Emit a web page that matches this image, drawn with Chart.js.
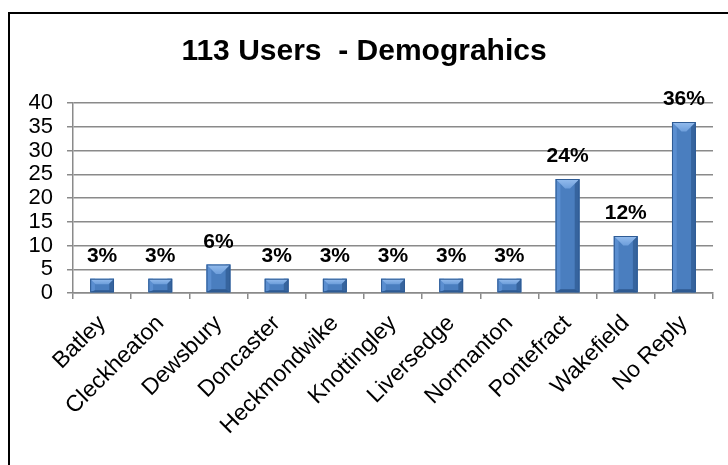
<!DOCTYPE html>
<html>
<head>
<meta charset="utf-8">
<script src="https://cdn.jsdelivr.net/npm/chart.js@4.4.1/dist/chart.umd.min.js"></script>
<style>
  html, body { margin: 0; padding: 0; background: #fff; }
  #wrap { position: relative; width: 728px; height: 465px; overflow: hidden; }
  #frame { position: absolute; left: 8px; top: 12px; width: 800px; height: 500px;
           border-left: 2px solid #000; border-top: 2px solid #000; }
  #demographics { position: absolute; left: 0; top: 0; }
</style>
</head>
<body>
<div id="wrap">
  <div id="frame"></div>
  <canvas id="demographics" width="728" height="465"></canvas>
</div>
<script>
const chartTitle = '113 Users  - Demograhics';
const towns = ['Batley', 'Cleckheaton', 'Dewsbury', 'Doncaster', 'Heckmondwike',
  'Knottingley', 'Liversedge', 'Normanton', 'Pontefract', 'Wakefield', 'No Reply'];
const userPercent = [3, 3, 6, 3, 3, 3, 3, 3, 24, 12, 36];
const yMin = 0;
const yMax = 40;
const yStep = 5;

const gridGrey = '#8a8a8a';
const fontFamily = 'Arial, "Liberation Sans", sans-serif';

// excel style bevel over each bar
const bevelBars = {
  id: 'bevelBars',
  afterDatasetsDraw(chart) {
    const ctx = chart.ctx;
    ctx.save();
    chart.getDatasetMeta(0).data.forEach(bar => {
      const {x, y, base, width} = bar.getProps(['x', 'y', 'base', 'width'], true);
      const l = x - width / 2, r = x + width / 2, t = y, b = base;
      const h = b - t;
      const d = Math.min(9.5, h * 0.4);
      const side = Math.min(5, width * 0.2);
      const bd = Math.min(3, h * 0.15);

      const poly = (pts, fill) => {
        ctx.beginPath();
        ctx.moveTo(pts[0][0], pts[0][1]);
        pts.slice(1).forEach(p => ctx.lineTo(p[0], p[1]));
        ctx.closePath();
        ctx.fillStyle = fill;
        ctx.fill();
      };

      poly([[l, t], [l + side, t], [l + side, b], [l, b]], '#5a8ed0');
      poly([[r - side, t], [r, t], [r, b], [r - side, b]], '#36649e');
      poly([[l, b], [r, b], [r - side, b - bd], [l + side, b - bd]], '#2f5a90');
      const g = ctx.createLinearGradient(0, t, 0, t + d);
      g.addColorStop(0, '#95bdee');
      g.addColorStop(1, '#6d9edb');
      poly([[l, t], [r, t], [r - d, t + d], [l + d, t + d]], g);

      ctx.strokeStyle = '#2e5b94';
      ctx.lineWidth = 1;
      ctx.strokeRect(l + 0.5, t + 0.5, width - 1, h - 1);
    });
    ctx.restore();
  }
};

// percentage labels above the bars
const valueLabels = {
  id: 'valueLabels',
  afterDatasetsDraw(chart) {
    const ctx = chart.ctx;
    const ds = chart.data.datasets[0];
    ctx.save();
    ctx.font = 'bold 21px ' + fontFamily;
    ctx.fillStyle = '#000';
    ctx.textAlign = 'center';
    ctx.textBaseline = 'alphabetic';
    chart.getDatasetMeta(0).data.forEach((bar, i) => {
      ctx.fillText(ds.data[i] + '%', bar.x, bar.y - 17);
    });
    ctx.restore();
  }
};

new Chart(document.getElementById('demographics'), {
  type: 'bar',
  data: {
    labels: towns,
    datasets: [{
      data: userPercent,
      backgroundColor: '#4a7ebf',
      borderWidth: 0,
      categoryPercentage: 1,
      barPercentage: 0.41
    }]
  },
  options: {
    responsive: false,
    animation: false,
    layout: { padding: { left: 15, right: 15, top: 0, bottom: 0 } },
    plugins: {
      legend: { display: false },
      tooltip: { enabled: false },
      title: {
        display: true,
        text: chartTitle,
        color: '#000',
        font: { family: fontFamily, size: 30, weight: 'bold' },
        padding: { top: 34, bottom: 33 }
      }
    },
    scales: {
      x: {
        grid: { display: true, drawOnChartArea: false, drawTicks: true, tickLength: 6,
                color: gridGrey, lineWidth: 1.5 },
        border: { display: true, color: gridGrey, width: 1.5 },
        ticks: {
          color: '#000',
          font: { family: fontFamily, size: 23 },
          minRotation: 45,
          maxRotation: 45,
          autoSkip: false,
          padding: 11
        },
        afterFit(scale) { scale.height = 172; }
      },
      y: {
        min: yMin,
        max: yMax,
        grid: { color: gridGrey, lineWidth: 1.5, tickLength: 6 },
        border: { display: true, color: gridGrey, width: 1.5 },
        ticks: {
          stepSize: yStep,
          autoSkip: false,
          color: '#000',
          font: { family: fontFamily, size: 22 },
          padding: 14
        },
        afterFit(scale) { scale.width = 58; }
      }
    }
  },
  plugins: [bevelBars, valueLabels]
});
</script>
</body>
</html>
